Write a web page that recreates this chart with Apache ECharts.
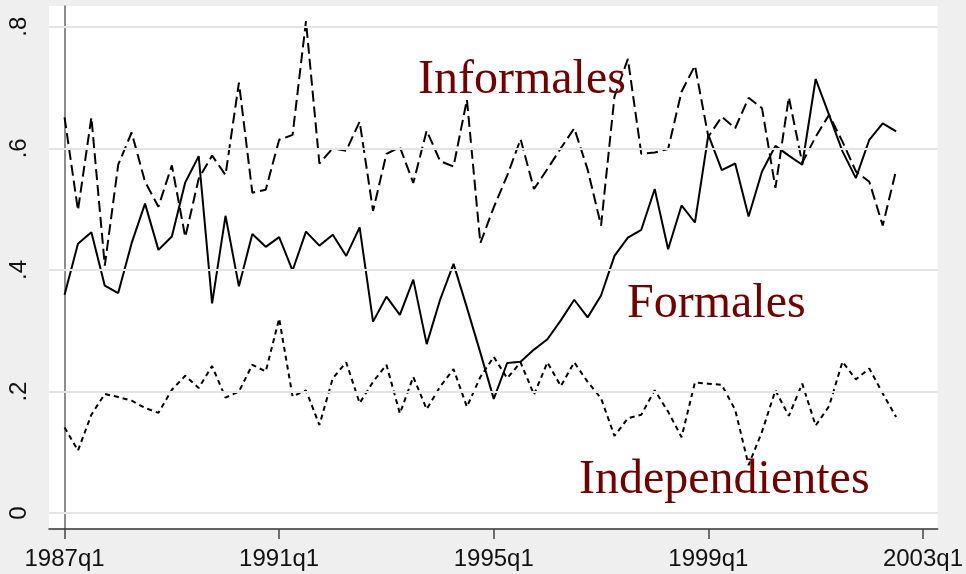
<!DOCTYPE html>
<html>
<head>
<meta charset="utf-8">
<script src="https://cdn.jsdelivr.net/npm/echarts@6.0.0/dist/echarts.min.js"></script>
<style>
  html, body { margin: 0; padding: 0; background: #efefef; }
  #chart { width: 966px; height: 574px; }
</style>
</head>
<body>
<div id="chart"></div>
<script>
// quarterly shares, 1987q1 .. 2002q3 (index 0 = 1987q1)
const formales = [
  0.359, 0.443, 0.462, 0.374, 0.362, 0.444, 0.509, 0.433, 0.455, 0.544,
  0.587, 0.345, 0.489, 0.373, 0.459, 0.438, 0.454, 0.399, 0.463, 0.440,
  0.458, 0.423, 0.470, 0.315, 0.356, 0.326, 0.384, 0.278, 0.351, 0.410,
  0.338, 0.264, 0.188, 0.247, 0.249, 0.269, 0.286, 0.317, 0.351, 0.322,
  0.358, 0.423, 0.453, 0.466, 0.533, 0.434, 0.506, 0.478, 0.622, 0.564,
  0.575, 0.488, 0.562, 0.604, 0.588, 0.573, 0.714, 0.655, 0.595, 0.551,
  0.614, 0.641, 0.628
];
const informales = [
  0.651, 0.498, 0.651, 0.407, 0.573, 0.626, 0.545, 0.504, 0.572, 0.454,
  0.550, 0.588, 0.556, 0.708, 0.527, 0.532, 0.614, 0.622, 0.809, 0.575,
  0.600, 0.596, 0.644, 0.497, 0.591, 0.602, 0.543, 0.629, 0.579, 0.570,
  0.680, 0.444, 0.503, 0.555, 0.615, 0.533, 0.566, 0.600, 0.633, 0.565,
  0.473, 0.685, 0.747, 0.591, 0.593, 0.599, 0.693, 0.736, 0.619, 0.652,
  0.633, 0.683, 0.666, 0.535, 0.684, 0.576, 0.619, 0.655, 0.611, 0.562,
  0.545, 0.473, 0.564
];
const independientes = [
  0.141, 0.103, 0.162, 0.196, 0.191, 0.185, 0.173, 0.165, 0.203, 0.226,
  0.206, 0.242, 0.190, 0.200, 0.244, 0.233, 0.320, 0.192, 0.202, 0.145,
  0.222, 0.248, 0.181, 0.216, 0.244, 0.164, 0.224, 0.171, 0.208, 0.237,
  0.175, 0.224, 0.257, 0.222, 0.248, 0.195, 0.248, 0.209, 0.248, 0.216,
  0.189, 0.127, 0.156, 0.162, 0.202, 0.167, 0.125, 0.215, 0.213, 0.211,
  0.170, 0.079, 0.134, 0.202, 0.160, 0.213, 0.144, 0.176, 0.249, 0.220,
  0.238, 0.197, 0.158
];

const xTickPos = [0, 16, 32, 48, 64];
const xTickLabels = ['1987q1', '1991q1', '1995q1', '1999q1', '2003q1'];
const yTicks = [0, 0.2, 0.4, 0.6, 0.8];
const yTickLabels = ['0', '.2', '.4', '.6', '.8'];

const toPairs = arr => arr.map((v, i) => [i, v]);

const chart = echarts.init(document.getElementById('chart'));

const labelStyle = {
  fill: '#700000',
  font: '48px "Liberation Serif", "DejaVu Serif", serif',
  verticalAlign: 'middle'
};

chart.setOption({
  animation: false,
  backgroundColor: '#efefef',
  grid: {
    left: 49, right: 25, top: 6, bottom: 45,
    show: true, backgroundColor: '#ffffff', borderWidth: 0
  },
  xAxis: {
    type: 'value',
    min: -1.16,
    max: 65.1,
    splitLine: { show: false },
    axisLine: { onZero: false, lineStyle: { color: '#333', width: 1.5 } },
    axisTick: { customValues: xTickPos, length: 10, lineStyle: { color: '#444', width: 1.5 } },
    axisLabel: {
      customValues: xTickPos,
      margin: 18,
      color: '#111',
      fontSize: 24,
      fontFamily: '"Liberation Sans", Arial, sans-serif',
      formatter: v => xTickLabels[xTickPos.indexOf(Math.round(v))] || ''
    }
  },
  yAxis: {
    type: 'value',
    min: -0.026,
    max: 0.834,
    splitLine: { show: false },
    axisLine: { show: true, lineStyle: { color: '#666', width: 1.5 } },
    axisTick: { show: true, customValues: yTicks, length: 10, lineStyle: { color: '#555', width: 1.5 } },
    axisLabel: {
      customValues: yTicks,
      rotate: 90,
      margin: 18,
      color: '#111',
      fontSize: 24,
      fontFamily: '"Liberation Sans", Arial, sans-serif',
      formatter: v => {
        const k = yTicks.findIndex(t => Math.abs(t - v) < 1e-6);
        return k >= 0 ? yTickLabels[k] : '';
      }
    }
  },
  series: [
    {
      // grid lines only
      type: 'line',
      data: [],
      z: 1,
      silent: true,
      markLine: {
        silent: true,
        symbol: 'none',
        label: { show: false },
        lineStyle: { color: '#e4e4e4', width: 2, type: 'solid' },
        data: yTicks.map(t => ({ yAxis: t }))
      }
    },
    {
      name: 'Formales',
      type: 'line',
      data: toPairs(formales),
      showSymbol: false,
      z: 3,
      lineStyle: { color: '#000', width: 2, type: 'solid' }
    },
    {
      name: 'Informales',
      type: 'line',
      data: toPairs(informales),
      showSymbol: false,
      z: 3,
      lineStyle: { color: '#000', width: 2, type: [11, 5] }
    },
    {
      name: 'Independientes',
      type: 'line',
      data: toPairs(independientes),
      showSymbol: false,
      z: 3,
      lineStyle: { color: '#000', width: 2, type: [5, 4] }
    }
  ],
  graphic: [
    { type: 'text', x: 418, y: 80, z: 10, style: Object.assign({ text: 'Informales' }, labelStyle) },
    { type: 'text', x: 627, y: 304, z: 10, style: Object.assign({ text: 'Formales' }, labelStyle) },
    { type: 'text', x: 579, y: 480, z: 10, style: Object.assign({ text: 'Independientes' }, labelStyle) }
  ]
});
</script>
</body>
</html>
